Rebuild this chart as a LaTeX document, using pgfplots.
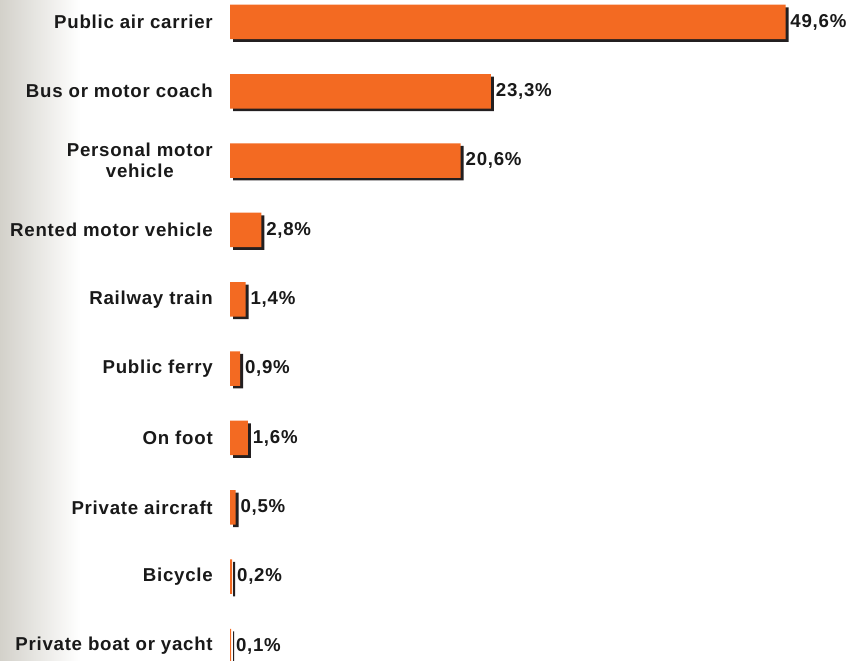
\documentclass[border=0pt]{standalone}
\usepackage{pgfplots}
\pgfplotsset{compat=1.18}
\usepackage{fontspec}
\setmainfont{Liberation Sans}[LetterSpace=4]
\definecolor{barorange}{HTML}{F36A22}
\definecolor{barshadow}{HTML}{231F20}
\definecolor{bgleft}{HTML}{D3D1CA}
\begin{document}
\begin{tikzpicture}
\fill[white] (0pt,0pt) rectangle (636pt,495pt);
\shade[left color=bgleft, right color=white] (0pt,0pt) rectangle (60pt,495pt);
\begin{axis}[
  at={(172.5pt,0pt)}, anchor=south west,
  scale only axis, width=420pt, height=495pt,
  xmin=0, xmax=50, ymin=-0.317, ymax=9.202,
  y dir=reverse,
  hide x axis,
  axis y line*=left,
  y axis line style={draw=none},
  major tick length=0pt,
  ytick={0,...,9},
  yticklabels={Public air carrier,Bus or motor coach,Personal motor\\vehicle,Rented motor vehicle,Railway train,Public ferry,On foot,Private aircraft,Bicycle,Private boat or yacht},
  yticklabel style={font=\fontsize{14pt}{15.75pt}\selectfont\bfseries, align=center, inner sep=0pt, xshift=-12.75pt, text=black!90},
  clip=false,
  xbar, bar width=25.875pt, bar shift=0pt,
  point meta=x,
  /pgf/number format/assume math mode=true,
]
\addplot[fill=barshadow, draw=none, bar shift=0pt, xshift=2.25pt, yshift=-1.9pt] coordinates {
 (49.6,0) (23.3,1) (20.6,2) (2.8,3) (1.4,4) (0.9,5) (1.6,6) (0.5,7) (0.2,8) (0.1,9)};
\addplot[fill=barorange, draw=none, bar shift=0pt,
  nodes near coords={\pgfmathprintnumber[fixed,fixed zerofill,precision=1,use comma]{\pgfplotspointmeta}\%},
  every node near coord/.append style={font=\fontsize{14pt}{15.75pt}\selectfont\bfseries, text=black!90, anchor=west, inner sep=0pt, xshift=3.5pt}
] coordinates {
 (49.6,0) (23.3,1) (20.6,2) (2.8,3) (1.4,4) (0.9,5) (1.6,6) (0.5,7) (0.2,8) (0.1,9)};
\end{axis}
\pgfresetboundingbox
\useasboundingbox (0pt,0pt) rectangle (636pt,495pt);
\end{tikzpicture}
\end{document}
